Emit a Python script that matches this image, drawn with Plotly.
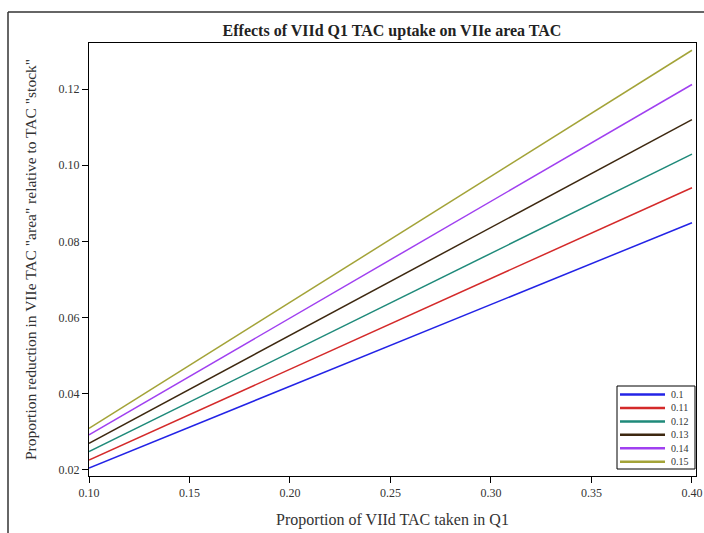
import plotly.graph_objects as go

x_vals = [0.10, 0.40]
series_names = ["0.1", "0.11", "0.12", "0.13", "0.14", "0.15"]
y_0_10 = [0.0205, 0.0849]
y_0_11 = [0.0226, 0.0941]
y_0_12 = [0.0248, 0.1029]
y_0_13 = [0.0270, 0.1120]
y_0_14 = [0.0292, 0.1212]
y_0_15 = [0.0309, 0.1302]
series_values = [y_0_10, y_0_11, y_0_12, y_0_13, y_0_14, y_0_15]
colors = ["#2323e6", "#d42a2a", "#1f8a7a", "#3d2810", "#a040f0", "#a3a338"]

x_ticks = [0.10, 0.15, 0.20, 0.25, 0.30, 0.35, 0.40]
y_ticks = [0.02, 0.04, 0.06, 0.08, 0.10, 0.12]

font_family = "Liberation Serif, Times New Roman, serif"

W, H = 704, 533
L, R, T, B = 89, 8, 43, 57
PW, PH = W - L - R, H - T - B


def px_x(px):
    return (px - L) / PW


def px_y(py):
    return (H - B - py) / PH


fig = go.Figure()
for name, vals, col in zip(series_names, series_values, colors):
    fig.add_trace(go.Scatter(x=x_vals, y=vals, mode="lines", name=name,
                             line=dict(color=col, width=1.5), showlegend=False))

# Outer frame (top and left edges visible) and legend box
shapes = [
    dict(type="line", xref="paper", yref="paper",
         x0=px_x(8), x1=px_x(720), y0=px_y(12), y1=px_y(12),
         line=dict(color="#333", width=1.5)),
    dict(type="line", xref="paper", yref="paper",
         x0=px_x(8), x1=px_x(8), y0=px_y(12), y1=px_y(560),
         line=dict(color="#333", width=1.5)),
    dict(type="rect", xref="paper", yref="paper",
         x0=px_x(617), x1=px_x(695), y0=px_y(469), y1=px_y(386),
         line=dict(color="black", width=1), fillcolor="white", layer="above"),
]
annotations = []
row_top, row_step = 394.5, 13.45
for i, (name, col) in enumerate(zip(series_names, colors)):
    yy = px_y(row_top + i * row_step)
    shapes.append(dict(type="line", xref="paper", yref="paper",
                       x0=px_x(620), x1=px_x(665), y0=yy, y1=yy,
                       line=dict(color=col, width=2.5), layer="above"))
    annotations.append(dict(xref="paper", yref="paper", x=px_x(669), y=yy,
                            text=name, showarrow=False, xanchor="left",
                            yanchor="middle",
                            font=dict(size=10, family=font_family, color="#333")))

fig.update_layout(
    width=W, height=H,
    margin=dict(l=L, r=R, t=T, b=B),
    paper_bgcolor="white", plot_bgcolor="white",
    font=dict(family=font_family, color="black"),
    title=dict(text="<b>Effects of VIId Q1 TAC uptake on VIIe area TAC</b>",
               x=(392 / W), xanchor="center", y=1 - 30 / H, yanchor="middle",
               font=dict(size=16, family=font_family, color="#222")),
    showlegend=False,
    shapes=shapes,
    annotations=annotations,
)

fig.update_xaxes(range=[0.10, 0.402], tickvals=x_ticks,
                 ticktext=[f"{v:.2f}" for v in x_ticks],
                 ticks="outside", ticklen=6, tickcolor="black",
                 showline=True, linecolor="black", linewidth=1, mirror=True,
                 showgrid=False, zeroline=False, automargin=False,
                 tickfont=dict(size=12, family=font_family, color="#333"),
                 title=dict(text="Proportion of VIId TAC taken in Q1",
                            font=dict(size=16, family=font_family, color="#333"),
                            standoff=14))
fig.update_yaxes(range=[0.0184, 0.1321], tickvals=y_ticks,
                 ticktext=[f"{v:.2f}" for v in y_ticks],
                 ticks="outside", ticklen=6, tickcolor="black",
                 showline=True, linecolor="black", linewidth=1, mirror=True,
                 showgrid=False, zeroline=False, automargin=False,
                 tickfont=dict(size=12, family=font_family, color="#333"),
                 title=dict(text='Proportion reduction in VIIe TAC "area" relative to TAC "stock"',
                            font=dict(size=15.5, family=font_family, color="#333"),
                            standoff=18))

fig.write_html("out.html", config={"displayModeBar": False},
               post_script="document.body.style.margin='0px';")
